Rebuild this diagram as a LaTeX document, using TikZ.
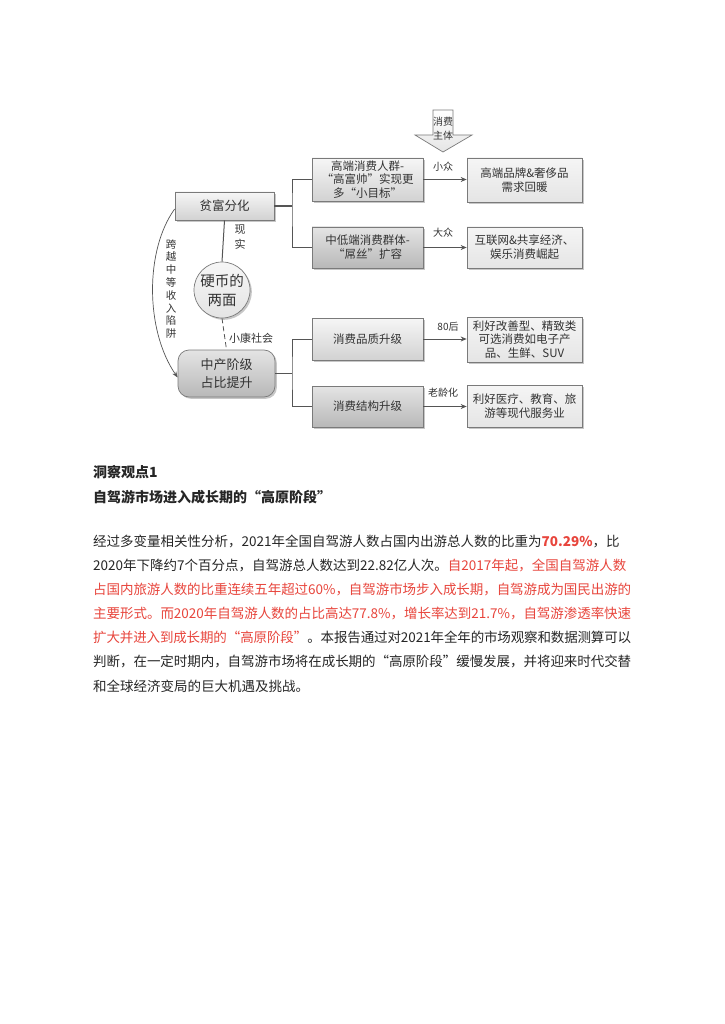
\documentclass[tikz,border=0pt]{standalone}
\usepackage{fontspec}
\setmainfont{Noto Sans CJK SC}
\usetikzlibrary{arrows.meta,shadows}
\definecolor{ln}{HTML}{555555}
\definecolor{tx}{HTML}{262626}
\definecolor{dg}{HTML}{333333}
\definecolor{rd}{HTML}{E8453C}
\definecolor{bd}{HTML}{7A7A7A}
\definecolor{ga}{HTML}{F6F6F6}
\definecolor{gb}{HTML}{D2D2D2}
\definecolor{gc}{HTML}{E4E4E4}
\definecolor{gd}{HTML}{B8B8B8}
\definecolor{ge}{HTML}{F5F5F5}
\definecolor{gf}{HTML}{E5E5E5}
\newcommand\myfs[2]{\fontsize{#1}{#2}\selectfont}
\XeTeXlinebreaklocale "zh"
\XeTeXlinebreakskip=0pt plus 2pt minus 0.6pt
\begin{document}
\begin{tikzpicture}[x=1pt,y=-1pt,
  shad/.style={drop shadow={shadow xshift=1.8pt,shadow yshift=-1.8pt,fill=black!40,opacity=0.55}},
  lbox/.style={draw=bd,line width=0.7pt,top color=ga,bottom color=gb,shad,align=center,
     text=dg,inner sep=1pt,minimum width=111pt,font=\myfs{11.5}{14}},
  dbox/.style={lbox,top color=gc,bottom color=gd},
  rbox/.style={lbox,top color=ge,bottom color=gf,minimum width=115pt},
  conn/.style={draw=ln,line width=1.3pt},
  thin/.style={draw=ln,line width=0.8pt},
  arr/.style={conn,-{Stealth[length=6pt,width=5pt]}},
  lab/.style={text=dg,font=\myfs{10}{12},inner sep=0pt},
  body/.style={anchor=west,inner sep=0pt,text width=538pt,align=justify,text=tx,font=\myfs{13.5}{24}}
]
\useasboundingbox[fill=white] (0,0) rectangle (724,1024);

% --- downward arrow "consumer subject"
\draw[bd,line width=0.7pt,top color=white,bottom color=gf]
  (433,110) -- (453,110) -- (453,135) -- (472,135) -- (443,152) -- (415,135) -- (433,135) -- cycle;
\node[lab,align=center,font=\myfs{10}{14}] (xf) at (443,129) {消费\\主体};

% --- left column
\node[lbox,minimum width=99pt,minimum height=28pt,font=\myfs{12.5}{15}] (pf) at (224.5,206) {贫富分化};
\node[circle,draw=bd,line width=0.7pt,top color=ga,bottom color=gc,shad,minimum size=56pt,
      inner sep=0pt,align=center,text=dg,font=\myfs{14.5}{19}] (coin) at (222,290) {硬币的\\两面};
\node[lbox,rounded corners=11pt,top color=gc,bottom color=gd,minimum width=97pt,minimum height=47pt,
      font=\myfs{13}{18}] (zc) at (226.5,373.5) {中产阶级\\占比提升};

% --- middle column
\node[lbox,minimum height=43pt,font=\myfs{11.5}{13.5}] (b1) at (367.5,179.5) {高端消费人群-\\“高富帅”实现更\\多“小目标”};
\node[dbox,minimum height=41pt] (b2) at (367.5,247.5) {中低端消费群体-\\“屌丝”扩容};
\node[lbox,minimum height=42pt] (b3) at (367.5,339) {消费品质升级};
\node[dbox,minimum height=41pt] (b4) at (367.5,406.5) {消费结构升级};

% --- right column
\node[rbox,minimum height=44pt] (r1) at (524.5,180) {高端品牌\&奢侈品\\需求回暖};
\node[rbox,minimum height=41pt] (r2) at (524.5,247.5) {互联网\&共享经济、\\娱乐消费崛起};
\node[rbox,minimum height=45pt,font=\myfs{11.5}{13.5}] (r3) at (524.5,339.5) {利好改善型、精致类\\可选消费如电子产\\品、生鲜、SUV};
\node[rbox,minimum height=42pt] (r4) at (524.5,406) {利好医疗、教育、旅\\游等现代服务业};

% --- junctions
\coordinate (j1) at (292,206);
\coordinate (j2) at (292,373.5);

% --- connectors
\draw[conn] (pf.east) -- (j1);
\draw[thin] (b1.west) -| (j1) |- (b2.west);
\draw[conn] (b1.west) -- ++(-16,0);
\draw[conn] (b2.west) -- ++(-16,0);
\draw[conn] (zc.east) -- (j2);
\draw[thin] (b3.west) -| (j2) |- (b4.west);
\draw[arr] (b1.east) -- (r1.west |- b1.east);
\draw[arr] (b2.east) -- (r2.west |- b2.east);
\draw[thin,-{Stealth[length=6pt,width=5pt]}] (b3.east) -- (r3.west |- b3.east);
\draw[arr] (b4.east) -- (r4.west |- b4.east);
\draw[conn,line width=1pt] (pf.south) -- (coin.north);
\draw[thin,dashed,dash pattern=on 5pt off 3pt] (coin.south) -- (zc.north);
\draw[draw=ln,line width=0.7pt,-{Stealth[length=6pt,width=4.5pt]}]
  ([yshift=-3pt]pf.west) .. controls (145,250) and (145,330) .. ([yshift=-4pt]zc.west);

% --- labels
\node[lab] (l1) at (443,167) {小众};
\node[lab] (l2) at (443,233) {大众};
\node[lab] (l3) at (448,327) {80后};
\node[lab] (l4) at (443,393) {老龄化};
\node[lab,align=center,font=\myfs{11}{15}] (l5) at (240,237.5) {现\\实};
\node[lab,font=\myfs{11}{13}] (l6) at (251,338) {小康社会};
\node[lab,align=center,font=\myfs{10.5}{12.8}] (l7) at (171,289) {跨\\越\\中\\等\\收\\入\\陷\\阱};

% --- text below
\node[anchor=west,inner sep=0pt,text=tx,font=\myfs{14}{16}\bfseries] (h1) at (93,472) {洞察观点1};
\node[anchor=west,inner sep=0pt,text=tx,font=\myfs{14}{16}\bfseries] (h2) at (93,497) {自驾游市场进入成长期的“高原阶段”};

\node[body] (t1) at (93,541) {\parfillskip=0pt\relax 经过多变量相关性分析，2021年全国自驾游人数占国内出游总人数的比重为{\color{rd}\bfseries 70.29\%}，比};
\node[body] (t2) at (93,565) {\parfillskip=0pt\relax 2020年下降约7个百分点，自驾游总人数达到22.82亿人次。{\color{rd}自2017年起，全国自驾游人数}};
\node[body,text=rd] (t3) at (93,589) {\parfillskip=0pt\relax 占国内旅游人数的比重连续五年超过60\%，自驾游市场步入成长期，自驾游成为国民出游的};
\node[body,text=rd] (t4) at (93,613) {\parfillskip=0pt\relax 主要形式。而2020年自驾游人数的占比高达77.8\%，增长率达到21.7\%，自驾游渗透率快速};
\node[body] (t5) at (93,637) {\parfillskip=0pt\relax {\color{rd}扩大并进入到成长期的“高原阶段”}。本报告通过对2021年全年的市场观察和数据测算可以};
\node[body] (t6) at (93,661) {\parfillskip=0pt\relax 判断，在一定时期内，自驾游市场将在成长期的“高原阶段”缓慢发展，并将迎来时代交替};
\node[anchor=west,inner sep=0pt,text=tx,font=\myfs{13.5}{24}] (t7) at (93,686) {和全球经济变局的巨大机遇及挑战。};
\end{tikzpicture}
\end{document}
